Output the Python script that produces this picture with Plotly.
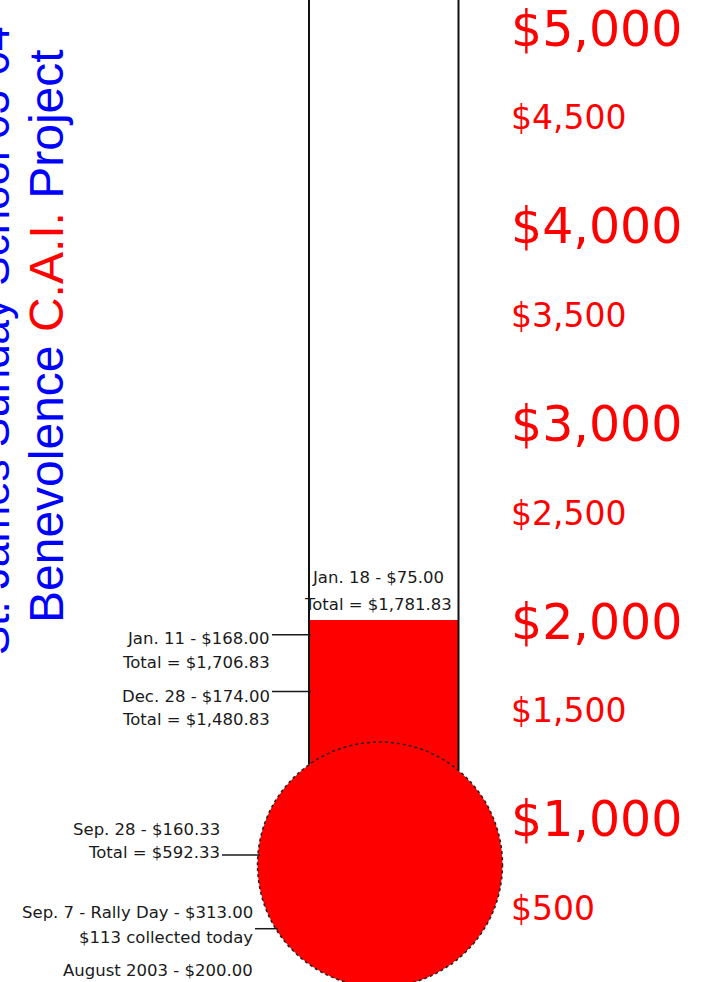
import math
import plotly.graph_objects as go

# ---------------- data ----------------
goal = 5000
current_total = 1781.83

scale_values = [5000, 4500, 4000, 3500, 3000, 2500, 2000, 1500, 1000, 500]
scale_labels = ["$5,000", "$4,500", "$4,000", "$3,500", "$3,000",
                "$2,500", "$2,000", "$1,500", "$1,000", "$500"]

note_first = ["Jan. 18 - $75.00", "Jan. 11 - $168.00", "Dec. 28 - $174.00",
              "Sep. 28 - $160.33", "Sep. 7 - Rally Day - $313.00",
              "August 2003 - $200.00"]
note_second = ["Total = $1,781.83", "Total = $1,706.83", "Total = $1,480.83",
               "Total = $592.33", "$113 collected today", ""]
note_totals = [1781.83, 1706.83, 1480.83, 592.33, 513.00, 200.00]

title_line1 = "St. James Sunday School 03-04"
title_line2 = "Benevolence <span style='color:#ff0000'>C.A.I.</span> Project"

# ---------------- layout / style ----------------
W, H = 704, 982
RED = "#ff0000"
BLUE = "#0000ff"
INK = "#1a1a1a"

# thermometer geometry (layout pixels)
TUBE_L, TUBE_R = 309, 458.5
BULB_CX, BULB_CY, BULB_R = 380, 864.5, 122.5

PX_PER_DOLLAR = 593 / 3000
scale_range = [179, 5147]        # axis for the printed scale
therm_range = [-50, 4918]        # axis for the mercury and callouts

# callout placement: text right edge (None = centred on tube),
# vertical nudge of the leader (px, +up), offsets of line 1 / line 2
note_right = [None, 272, 272, 222, 255, 255]
note_nudge = [0, 0, -12, 0, -58, -38]
note_off1 = [42, -4, -5, 26, 16, 0]
note_off2 = [15, -28, -28, 3, -9, 0]
note_leader = [False, True, True, True, True, False]

k = PX_PER_DOLLAR


def paper(py):
    return 1 - py / H


def px_of(v):
    """pixel row (from top) of a value on the thermometer axis"""
    return (therm_range[1] - v) * k


def edge_x(py):
    """left outline of the thermometer at pixel row py"""
    dy = py - BULB_CY
    y_join = BULB_CY - math.sqrt(BULB_R ** 2 - (BULB_CX - TUBE_L) ** 2)
    if py >= y_join and abs(dy) < BULB_R:
        return BULB_CX - math.sqrt(BULB_R ** 2 - dy ** 2)
    return TUBE_L


fig = go.Figure()

# mercury: rises from the bulb centre up to the current total
bulb_base = therm_range[1] - BULB_CY / k
fig.add_trace(go.Bar(
    x=[(TUBE_L + TUBE_R) / 2], y=[current_total - bulb_base], base=bulb_base,
    width=[TUBE_R - TUBE_L + 0.5], yaxis="y2",
    marker=dict(color=RED, line=dict(width=0)),
    hoverinfo="skip", showlegend=False))

shapes = []
# tube outline
for xt in (TUBE_L, TUBE_R):
    yj = BULB_CY - math.sqrt(BULB_R ** 2 - (BULB_CX - xt) ** 2)
    shapes.append(dict(type="line", xref="x", yref="paper",
                       x0=xt, x1=xt, y0=paper(yj), y1=1.0,
                       line=dict(color="#111111", width=2), layer="above"))
# bulb
shapes.append(dict(type="circle", xref="x", yref="paper",
                   x0=BULB_CX - BULB_R, x1=BULB_CX + BULB_R,
                   y0=paper(BULB_CY + BULB_R), y1=paper(BULB_CY - BULB_R),
                   fillcolor=RED, line=dict(color="#222222", width=1.5, dash="dot"),
                   layer="above"))

annotations = []
# printed scale on the right
for v, lab in zip(scale_values, scale_labels):
    big = v % 1000 == 0
    annotations.append(dict(
        x=509, y=v, xref="x", yref="y", xanchor="left", yanchor="middle",
        text=lab, showarrow=False,
        yshift=0 if big else 10,
        font=dict(family="DejaVu Sans", size=49 if big else 33, color=RED)))

# callouts
for i, total in enumerate(note_totals):
    y_lead = total + note_nudge[i] / k
    py_lead = px_of(y_lead)
    if note_right[i] is None:
        xa, xanchor = (TUBE_L + TUBE_R) / 2 - 6, "center"
    else:
        xa, xanchor = note_right[i], "right"
    annotations.append(dict(
        x=xa, y=y_lead, xref="x", yref="y2", xanchor=xanchor, yanchor="middle",
        text=note_first[i], showarrow=False, yshift=note_off1[i],
        font=dict(family="DejaVu Sans", size=16.5, color=INK)))
    if note_second[i]:
        annotations.append(dict(
            x=xa, y=y_lead, xref="x", yref="y2", xanchor=xanchor, yanchor="middle",
            text=note_second[i], showarrow=False, yshift=note_off2[i],
            font=dict(family="DejaVu Sans", size=16.5, color=INK)))
    if note_leader[i]:
        shapes.append(dict(type="line", xref="x", yref="y2",
                           x0=note_right[i], x1=edge_x(py_lead) + 2,
                           y0=y_lead, y1=y_lead,
                           line=dict(color=INK, width=1.5), layer="above"))

# rotated title (paper refs; the first line runs off the left edge as in the original)
annotations.append(dict(
    x=-7 / W, y=paper(341), xref="paper", yref="paper", xanchor="center", yanchor="middle",
    text=title_line1, textangle=-90, showarrow=False,
    font=dict(family="Liberation Sans", size=44, color=BLUE)))
annotations.append(dict(
    x=46 / W, y=paper(336), xref="paper", yref="paper", xanchor="center", yanchor="middle",
    text=title_line2, textangle=-90, showarrow=False,
    font=dict(family="Liberation Sans", size=48, color=BLUE)))

fig.update_layout(
    width=W, height=H,
    margin=dict(l=0, r=0, t=0, b=0, pad=0),
    paper_bgcolor="white", plot_bgcolor="white",
    xaxis=dict(range=[0, W], visible=False, fixedrange=True),
    yaxis=dict(range=scale_range, visible=False, fixedrange=True),
    yaxis2=dict(range=therm_range, visible=False, fixedrange=True,
                overlaying="y", side="right"),
    shapes=shapes, annotations=annotations,
    showlegend=False, bargap=0,
)

fig.write_html("out.html", config={"displayModeBar": False},
               post_script="document.body.style.margin='0';document.body.style.overflow='hidden';")
